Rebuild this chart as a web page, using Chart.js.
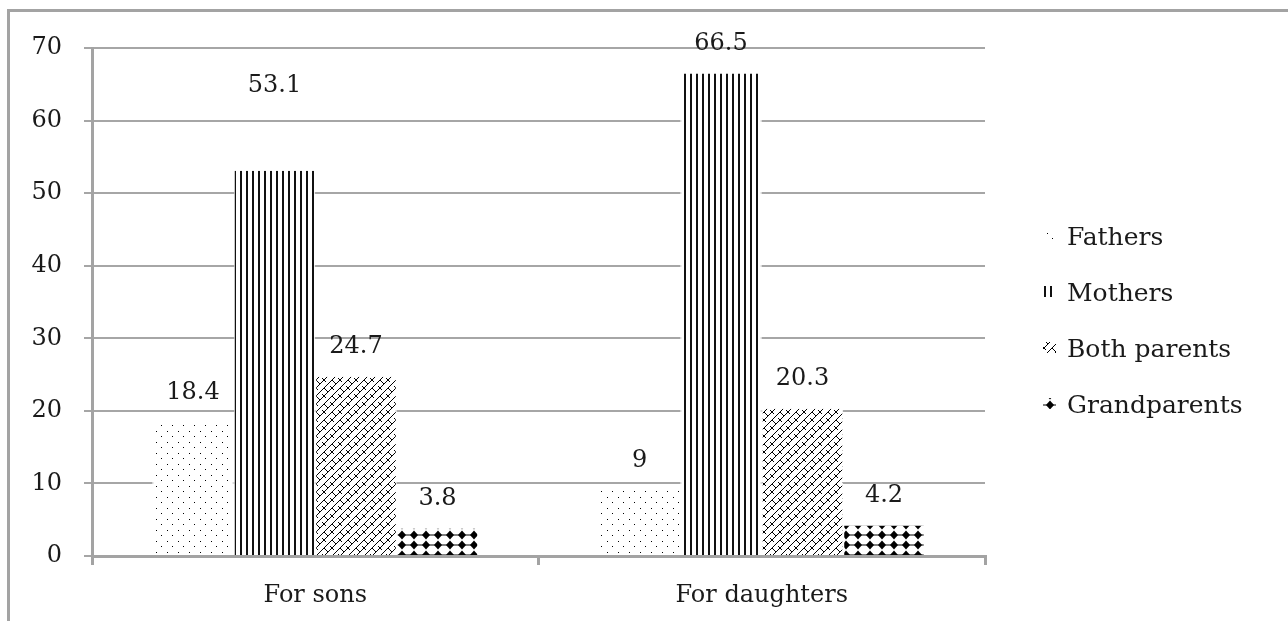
<!DOCTYPE html>
<html>
<head>
<meta charset="utf-8">
<script src="https://cdn.jsdelivr.net/npm/chart.js@4"></script>
<style>
  html, body { margin: 0; padding: 0; background: #fff; }
  #wrap { position: relative; width: 1288px; height: 621px; overflow: hidden; }
  #frame { position: absolute; left: 7px; top: 9px; width: 1400px; height: 800px;
           border-top: 3px solid #a3a3a3; border-left: 3px solid #a3a3a3; }
  canvas { position: absolute; left: 0; top: 0; }
</style>
</head>
<body>
<div id="wrap">
  <div id="frame"></div>
  <canvas id="chart" width="1288" height="621"></canvas>
</div>
<script>
// data
const categories = ['For sons', 'For daughters'];
const seriesNames = ['Fathers', 'Mothers', 'Both parents', 'Grandparents'];
const fathers = [18.4, 9];
const mothers = [53.1, 66.5];
const bothParents = [24.7, 20.3];
const grandparents = [3.8, 4.2];
const yMin = 0, yMax = 70, yStep = 10;

// fill patterns like the old office hatch fills
function makePattern(w, h, draw) {
    const c = document.createElement('canvas');
    c.width = w; c.height = h;
    const g = c.getContext('2d');
    g.fillStyle = '#fff';
    g.fillRect(0, 0, w, h);
    g.fillStyle = '#000';
    g.strokeStyle = '#000';
    draw(g, w, h);
    return g.createPattern(c, 'repeat');
}

const dots = makePattern(11, 11, g => {
    g.fillRect(2, 2, 1, 1);
    g.fillRect(7, 7, 1, 1);
});

const stripes = makePattern(6, 4, g => {
    g.fillStyle = '#111';
    g.fillRect(0, 0, 2, 4);
});

// diagonal brick, two rows per tile so the short strokes alternate
const brick = makePattern(16, 16, g => {
    g.lineWidth = 1;
    g.beginPath();
    for (const o of [-16, 0, 16]) {
        g.moveTo(o, 8); g.lineTo(o + 8, 0);
        g.moveTo(o, 16); g.lineTo(o + 16, 0);
        g.moveTo(o + 8, 16); g.lineTo(o + 24, 0);
    }
    g.moveTo(4, 4); g.lineTo(8, 8);
    g.moveTo(12, 12); g.lineTo(16, 16);
    g.moveTo(10, 2); g.lineTo(14, 6);
    g.moveTo(2, 10); g.lineTo(6, 14);
    g.stroke();
});

const diamonds = makePattern(12, 10, g => {
    g.beginPath();
    g.moveTo(6, 0.5); g.lineTo(10, 5); g.lineTo(6, 9.5); g.lineTo(2, 5);
    g.closePath();
    g.fill();
    g.fillRect(0, 4.5, 12, 1);
});

const fills = [dots, stripes, brick, diamonds];

const valueLabels = {
    id: 'valueLabels',
    afterDatasetsDraw(chart, args, opts) {
        const ctx = chart.ctx;
        ctx.save();
        ctx.font = '24px "DejaVu Serif"';
        ctx.fillStyle = '#1a1a1a';
        ctx.textAlign = 'center';
        ctx.textBaseline = 'middle';
        chart.data.datasets.forEach((ds, i) => {
            chart.getDatasetMeta(i).data.forEach((bar, j) => {
                const lift = opts.lift + (opts.extra[i + '-' + j] || 0);
                ctx.fillText(String(ds.data[j]), bar.x, bar.y - lift);
            });
        });
        ctx.restore();
    }
};

const sideLegend = {
    id: 'sideLegend',
    afterDraw(chart, args, opts) {
        const ctx = chart.ctx;
        ctx.save();
        ctx.font = '25px "DejaVu Serif"';
        ctx.textBaseline = 'middle';
        chart.data.datasets.forEach((ds, i) => {
            const y = opts.top + i * opts.gap;
            ctx.fillStyle = ds.backgroundColor;
            ctx.fillRect(opts.left, y - 8, 13, 11);
            ctx.fillStyle = '#1a1a1a';
            ctx.fillText(ds.label, opts.left + 24, y);
        });
        ctx.restore();
    }
};

Chart.defaults.font.family = '"DejaVu Serif", serif';
Chart.defaults.font.size = 24;
Chart.defaults.color = '#1a1a1a';

const ctx = document.getElementById('chart').getContext('2d');
new Chart(ctx, {
    type: 'bar',
    data: {
        labels: categories,
        datasets: [fathers, mothers, bothParents, grandparents].map((d, i) => ({
            label: seriesNames[i],
            data: d,
            backgroundColor: fills[i],
            borderColor: '#fff',
            borderWidth: { top: 0, bottom: 0, left: 1, right: 1 },
            borderSkipped: false,
            barPercentage: 1.0,
            categoryPercentage: 0.73
        }))
    },
    options: {
        responsive: false,
        animation: false,
        layout: {
            padding: { top: 48, right: 303, bottom: 0, left: 0 }
        },
        plugins: {
            legend: { display: false },
            tooltip: { enabled: false },
            valueLabels: { lift: 30, extra: { '1-0': 55 } },
            sideLegend: { left: 1043, top: 238, gap: 56 }
        },
        scales: {
            x: {
                afterFit: s => { s.height = 65; },
                border: { color: '#a3a3a3', width: 3, z: 1 },
                grid: {
                    offset: true,
                    drawOnChartArea: false,
                    tickLength: 9,
                    color: '#a3a3a3',
                    lineWidth: 3
                },
                ticks: { padding: 16, color: '#1a1a1a' }
            },
            y: {
                min: yMin,
                max: yMax,
                afterFit: s => { s.width = 92; },
                border: { color: '#a3a3a3', width: 3 },
                grid: {
                    color: '#a6a6a6',
                    lineWidth: 2,
                    tickLength: 8
                },
                ticks: { stepSize: yStep, padding: 22, color: '#1a1a1a' }
            }
        }
    },
    plugins: [valueLabels, sideLegend]
});
</script>
</body>
</html>
